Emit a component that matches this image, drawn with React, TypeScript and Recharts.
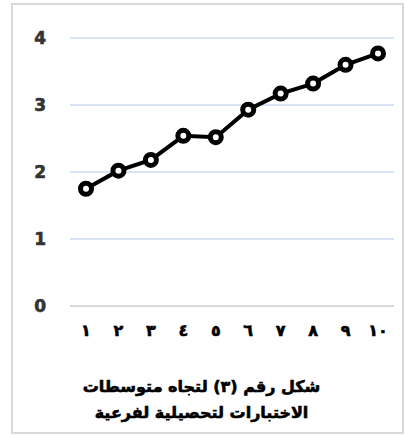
import React from "react";
import { LineChart, Line, XAxis, YAxis, CartesianGrid } from "recharts";

const categories = ["١", "٢", "٣", "٤", "٥", "٦", "٧", "٨", "٩", "١٠"];
const values = [1.75, 2.02, 2.18, 2.54, 2.52, 2.93, 3.17, 3.32, 3.6, 3.77];
const yTicks = [0, 1, 2, 3, 4];
const titleLines = ["شكل رقم (٣) لتجاه متوسطات", "الاختبارات لتحصيلية لفرعية"];

const data = categories.map((c, i) => ({ name: c, value: values[i] }));

export default function App() {
  return (
    <div style={{ position: "absolute", left: 0, top: 0, width: 405, height: 436, background: "#fff" }}>
      <div
        style={{
          position: "absolute",
          left: 11,
          top: 3,
          width: 393,
          height: 431,
          border: "2px solid #d9d9d9",
          boxSizing: "border-box",
        }}
      />
      <div style={{ position: "absolute", left: 0, top: 0 }}>
        <LineChart
          width={405}
          height={436}
          data={data}
          margin={{ top: 38, right: 11, bottom: 100, left: 10 }}
        >
          <CartesianGrid vertical={false} stroke="#dae3f3" strokeWidth={2} />
          <XAxis
            dataKey="name"
            padding={{ left: 16, right: 16 }}
            height={30}
            tickLine={false}
            tickSize={0}
            tickMargin={19}
            axisLine={{ stroke: "#d9d9d9", strokeWidth: 2 }}
            interval={0}
            tick={{ fill: "#000", stroke: "#000", strokeWidth: 0.6, fontSize: 16, fontWeight: "bold", fontFamily: "DejaVu Sans" }}
          />
          <YAxis
            domain={[0, 4]}
            ticks={yTicks}
            width={60}
            tickLine={false}
            axisLine={false}
            tickSize={0}
            tickMargin={24}
            tick={{ fill: "#333", stroke: "#333", strokeWidth: 0.6, fontSize: 17, fontWeight: "bold", fontFamily: "DejaVu Sans" }}
          />
          <Line
            type="linear"
            dataKey="value"
            stroke="#000"
            strokeWidth={4}
            dot={{ r: 5.5, stroke: "#000", strokeWidth: 5, fill: "#fff" }}
            isAnimationActive={false}
          />
        </LineChart>
      </div>
      <div
        dir="rtl"
        style={{
          position: "absolute",
          left: 0,
          width: 405,
          top: 374,
          textAlign: "center",
          fontFamily: "DejaVu Sans",
          fontWeight: "bold",
          fontSize: 16,
          lineHeight: "26px",
          color: "#000",
          WebkitTextStroke: "0.6px #000",
        }}
      >
        <div style={{ marginLeft: -2 }}>{titleLines[0]}</div>
        <div style={{ marginLeft: -2 }}>{titleLines[1]}</div>
      </div>
    </div>
  );
}
